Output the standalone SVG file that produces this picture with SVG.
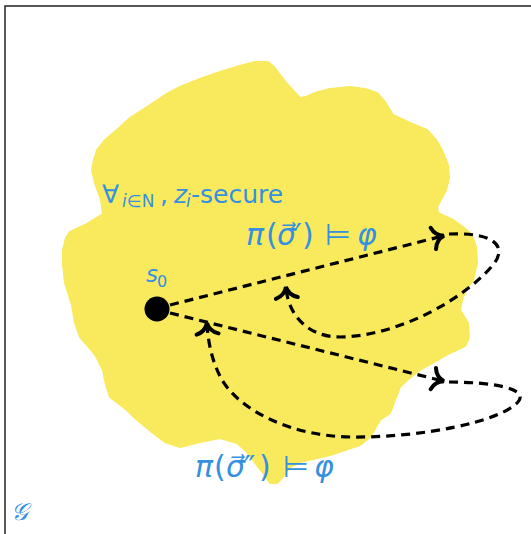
<svg xmlns="http://www.w3.org/2000/svg" width="531" height="534" viewBox="0 0 531 534">
  <style>
    .frame { fill: none; stroke: #222; stroke-width: 1.5; }
    .region { fill: #F8EA5C; stroke: #F8EA5C; stroke-width: 2; stroke-linejoin: round; }
    .lbl { fill: #3590E0; font-family: "DejaVu Sans", sans-serif; }
    .it { font-style: italic; }
    .edge { fill: none; stroke: #000; stroke-width: 3.2; stroke-dasharray: 9 6; }
  </style>
  <defs>
    <marker id="to" markerUnits="userSpaceOnUse" markerWidth="30" markerHeight="30" viewBox="-15 -15 30 30" refX="0" refY="0" orient="auto" overflow="visible">
      <path d="M -10 -11 C -8 -4, -3 -1, 1 0 C -3 1, -8 4, -10 11" fill="none" stroke="#000" stroke-width="4" stroke-linecap="round"/>
    </marker>
  </defs>

  <rect width="531" height="534" fill="#fff"/>
  <path class="frame" d="M 5 534 L 5 6 L 531 6"/>

  <!-- secure region of the game graph -->
  <g id="region">
    <polygon class="region" points="260,62 268,62 274,67 287,84 300,98 306,97 315,93 330,89 350,87 365,89 377,93 385,102 393,115 410,123 427,130 436,140 442,150 448,165 449,178 446,190 437,207 438,213 453,220 463,227 472,235 476,247 477,263 473,280 465,292 462,300 460,310 468,323 469,338 465,346 450,353 420,370 407,380 400,387 395,400 390,413 380,420 370,437 360,445 330,455 300,462 290,467 282,478 277,483 270,483 263,473 253,460 245,450 237,443 220,438 200,442 180,447 165,442 153,433 135,418 127,410 110,397 106,385 103,370 97,358 93,352 80,337 75,323 72,305 65,283 63,265 63,250 66,238 70,232 85,225 103,214 101,200 95,183 92,170 94,160 97,150 105,140 117,130 130,118 147,107 165,95 180,87 200,79 220,72 240,66 255,62"/>
  </g>

  <!-- connectors -->
  <g id="edges">
    <path class="edge" d="M 170 305 L 443 236" marker-end="url(#to)"/>
    <path class="edge" d="M 449 234 C 497 232, 508 248, 492 266 C 465 298, 400 336, 340 337 C 305 337, 288 312, 286 288" marker-end="url(#to)"/>
    <path class="edge" d="M 170 313 L 443 381" marker-end="url(#to)"/>
    <path class="edge" d="M 449 382 C 490 382, 530 388, 518 402 C 500 422, 420 438, 350 437 C 290 436, 240 410, 222 380 C 212 362, 208 342, 207 324" marker-end="url(#to)"/>
  </g>

  <!-- initial state -->
  <g id="s0">
    <circle cx="157" cy="309" r="12.5" fill="#000"/>
    <text class="lbl" y="282"><tspan class="it" x="146" font-size="23">s</tspan><tspan x="157" y="287" font-size="16">0</tspan></text>
  </g>

  <!-- region label -->
  <g id="secure-label">
    <text class="lbl" y="203" font-size="25"><tspan x="102">∀</tspan><tspan class="it" x="122" y="207" font-size="17">i</tspan><tspan x="127" y="207" font-size="17">∈N</tspan><tspan x="160" y="203">,</tspan><tspan class="it" x="174">z</tspan><tspan class="it" x="186" y="207" font-size="17">i</tspan><tspan x="191" y="203">-secure</tspan></text>
  </g>

  <!-- path labels -->
  <g id="label-sigma1">
    <text class="lbl" y="245" font-size="30"><tspan class="it" x="246">π</tspan><tspan x="266">(</tspan><tspan class="it" x="277">σ⃗</tspan><tspan x="295">′</tspan><tspan x="302">)</tspan><tspan x="325">⊨</tspan><tspan class="it" x="357">φ</tspan></text>
  </g>
  <g id="label-sigma2">
    <text class="lbl" y="477" font-size="30"><tspan class="it" x="195">π</tspan><tspan x="214">(</tspan><tspan class="it" x="226">σ⃗</tspan><tspan x="244">″</tspan><tspan x="259">)</tspan><tspan x="283">⊨</tspan><tspan class="it" x="314">φ</tspan></text>
  </g>

  <g id="graph-label">
    <text class="lbl it" x="11" y="520" font-size="24">𝒢</text>
  </g>
</svg>
